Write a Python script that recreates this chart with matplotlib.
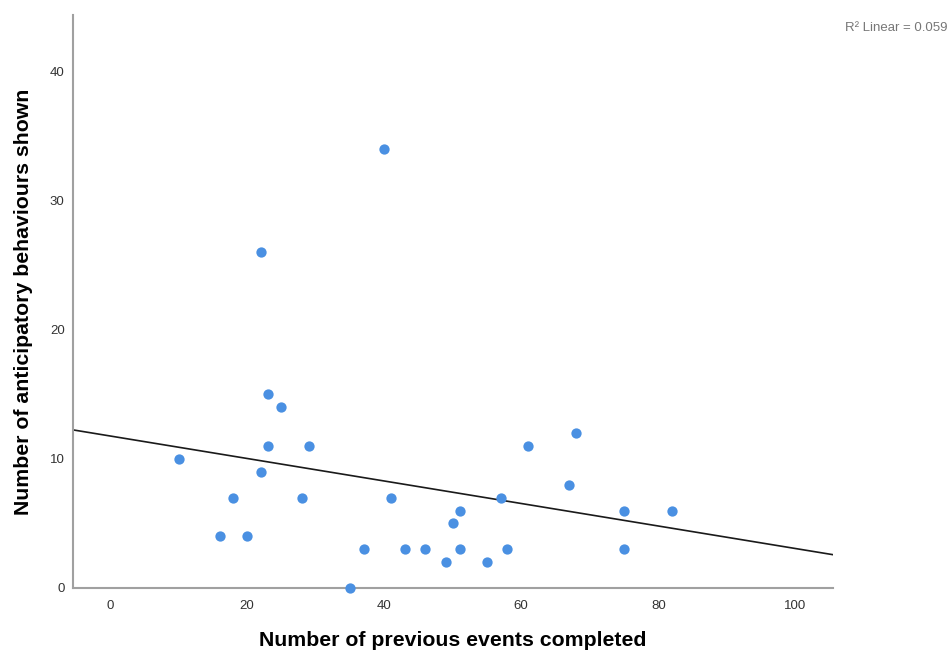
import numpy as np
import matplotlib
matplotlib.use("Agg")
import matplotlib.pyplot as plt

plt.rcParams['font.family'] = ['Liberation Sans', 'DejaVu Sans']

# previous events completed vs anticipatory behaviours
events = [10, 16, 18, 20, 22, 22, 23, 23, 25, 28, 29, 35, 37, 40, 41, 43, 46,
          49, 50, 51, 51, 55, 57, 58, 61, 67, 68, 75, 75, 82]
behaviours = [10, 4, 7, 4, 26, 9, 15, 11, 14, 7, 11, 0, 3, 34, 7, 3, 3,
              2, 5, 6, 3, 2, 7, 3, 11, 8, 12, 6, 3, 6]
xticks = [0, 20, 40, 60, 80, 100]
yticks = [0, 10, 20, 30, 40]

x = np.array(events, dtype=float)
y = np.array(behaviours, dtype=float)
slope, intercept = np.polyfit(x, y, 1)

fig = plt.figure(figsize=(9.49, 6.53), dpi=100)
ax = fig.add_axes([0.0769, 0.0996, 0.8009, 0.8774])

xmin, xmax = -5.4, 105.5
ax.set_xlim(xmin, xmax)
ax.set_ylim(0, 44.4)

ax.scatter(x, y, s=55, color='#4a90e2', zorder=3, clip_on=False, linewidths=0)
xl = np.array([xmin, xmax])
ax.plot(xl, intercept + slope * xl, color='#1a1a1a', lw=1.2, zorder=2)

ax.set_xticks(xticks)
ax.set_yticks(yticks)
ax.tick_params(length=0, labelsize=9.5, colors='#333333', pad=9)
ax.tick_params(axis='y', pad=6)

for s in ['top', 'right']:
    ax.spines[s].set_visible(False)
for s in ['left', 'bottom']:
    ax.spines[s].set_color('#a0a0a0')
    ax.spines[s].set_linewidth(1.5)

ax.set_xlabel('Number of previous events completed', fontsize=15.3, fontweight='bold', labelpad=13)
ax.set_ylabel('Number of anticipatory behaviours shown', fontsize=15.3, fontweight='bold', labelpad=12)

fig.text(0.998, 0.957, 'R² Linear = 0.059', ha='right', va='center', fontsize=9.5, color='#777777')

fig.savefig('out.png', dpi=100)
